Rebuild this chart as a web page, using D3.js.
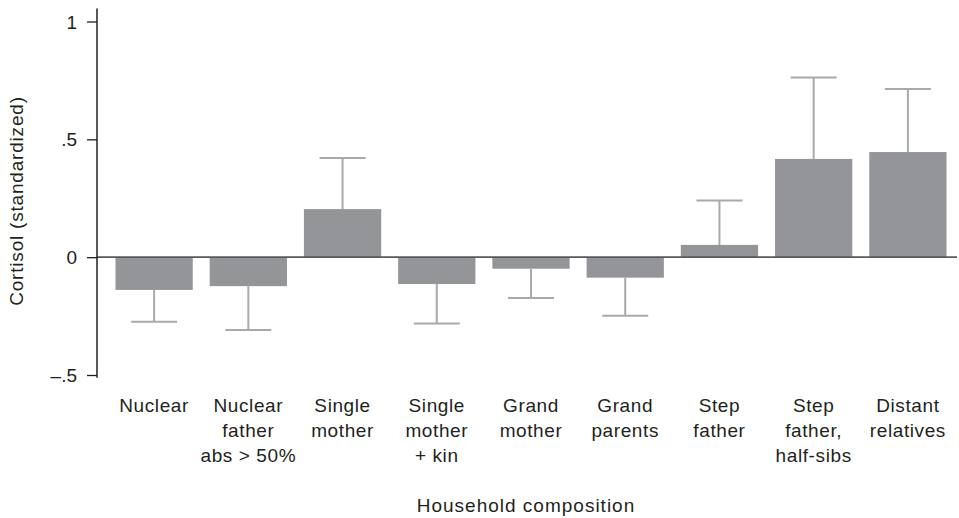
<!DOCTYPE html>
<html>
<head>
<meta charset="utf-8">
<script src="https://cdn.jsdelivr.net/npm/d3@7"></script>
<style>
  body { margin: 0; background: #fff; }
  svg text { font-family: "Liberation Sans", Arial, Helvetica, sans-serif; fill: #231f20; }
</style>
</head>
<body>
<svg id="chart" width="959" height="518"></svg>
<script>
// household types, one array of lines per category label
const categories = [
  ["Nuclear"],
  ["Nuclear", "father", "abs > 50%"],
  ["Single", "mother"],
  ["Single", "mother", "+ kin"],
  ["Grand", "mother"],
  ["Grand", "parents"],
  ["Step", "father"],
  ["Step", "father,", "half-sibs"],
  ["Distant", "relatives"]
];
// mean cortisol (standardized) and end of the error bar
const means = [-0.139, -0.123, 0.204, -0.114, -0.049, -0.087, 0.052, 0.417, 0.446];
const errEnds = [-0.274, -0.309, 0.421, -0.282, -0.173, -0.249, 0.24, 0.762, 0.714];
const yTicks = [-0.5, 0, 0.5, 1];
const yTickLabels = ["\u2013.5", "0", ".5", "1"];

const width = 959, height = 518;
const svg = d3.select("#chart");

const x = d3.scaleBand()
  .domain(d3.range(categories.length))
  .range([107, 955])
  .paddingInner(0.18)
  .paddingOuter(0.09);

const y = d3.scaleLinear()
  .domain([-0.5, 1])
  .range([375, 21.5]);

const axisX = 97;

// bars
svg.append("g")
  .selectAll("rect")
  .data(means)
  .enter().append("rect")
  .attr("x", (d, i) => x(i))
  .attr("width", x.bandwidth())
  .attr("y", d => y(Math.max(0, d)))
  .attr("height", d => Math.abs(y(d) - y(0)))
  .attr("fill", "#939598");

// error bars
const capHalf = 23;
const err = svg.append("g")
  .attr("stroke", "#a7a9ac")
  .attr("stroke-width", 2);

err.selectAll("line.whisker")
  .data(means)
  .enter().append("line")
  .attr("class", "whisker")
  .attr("x1", (d, i) => x(i) + x.bandwidth() / 2)
  .attr("x2", (d, i) => x(i) + x.bandwidth() / 2)
  .attr("y1", d => y(d))
  .attr("y2", (d, i) => y(errEnds[i]));

err.selectAll("line.cap")
  .data(errEnds)
  .enter().append("line")
  .attr("class", "cap")
  .attr("x1", (d, i) => x(i) + x.bandwidth() / 2 - capHalf)
  .attr("x2", (d, i) => x(i) + x.bandwidth() / 2 + capHalf)
  .attr("y1", d => y(d))
  .attr("y2", d => y(d));

// zero line
svg.append("line")
  .attr("x1", axisX)
  .attr("x2", 957)
  .attr("y1", y(0))
  .attr("y2", y(0))
  .attr("stroke", "#58595b")
  .attr("stroke-width", 1.6);

// y axis
const yAxis = d3.axisLeft(y)
  .tickValues(yTicks)
  .tickFormat((d, i) => yTickLabels[i])
  .tickSize(10)
  .tickPadding(10);

const gy = svg.append("g")
  .attr("transform", "translate(" + axisX + ",0)")
  .call(yAxis);
gy.select(".domain").remove();
gy.selectAll(".tick line").attr("stroke", "#231f20").attr("stroke-width", 1.3);
gy.selectAll(".tick text")
  .attr("font-size", 19)
  .attr("dy", "0.35em")
  .style("font-family", "'Liberation Sans', Arial, sans-serif")
  .attr("fill", "#231f20");
gy.append("line")
  .attr("x1", 0).attr("x2", 0)
  .attr("y1", y(1.055)).attr("y2", y(-0.512))
  .attr("stroke", "#231f20")
  .attr("stroke-width", 1.5);

// category labels
const labels = svg.append("g")
  .selectAll("text")
  .data(categories)
  .enter().append("text")
  .attr("text-anchor", "middle")
  .attr("font-size", 19)
  .attr("letter-spacing", "0.6px")
  .attr("transform", (d, i) => "translate(" + (x(i) + x.bandwidth() / 2) + ",412)");

labels.selectAll("tspan")
  .data(d => d)
  .enter().append("tspan")
  .attr("x", 0)
  .attr("y", (d, j) => j * 25)
  .text(d => d);

// axis titles
svg.append("text")
  .attr("x", 526)
  .attr("y", 512)
  .attr("text-anchor", "middle")
  .attr("font-size", 19)
  .attr("letter-spacing", "1px")
  .text("Household composition");

svg.append("text")
  .attr("transform", "translate(23,201) rotate(-90)")
  .attr("text-anchor", "middle")
  .attr("font-size", 19)
  .attr("letter-spacing", "0.8px")
  .text("Cortisol (standardized)");
</script>
</body>
</html>
